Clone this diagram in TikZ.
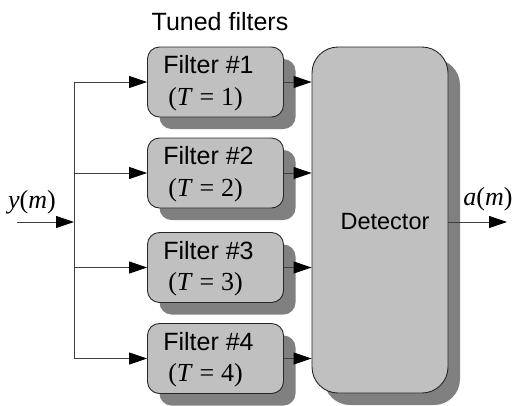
\documentclass[tikz,border=0pt]{standalone}
\usepackage{fontspec}
\setmainfont{Liberation Sans}
\newfontfamily\tms{Liberation Serif}
\usetikzlibrary{arrows.meta,shadows,calc}
\definecolor{boxgray}{HTML}{C0C0C0}
\definecolor{shadowgray}{HTML}{808080}
\definecolor{linegray}{HTML}{404040}
\begin{document}
\begin{tikzpicture}[x=1pt,y=-1pt,
  box/.style={draw=black!85, fill=boxgray, line width=0.9pt,
    drop shadow={shadow xshift=12pt, shadow yshift=-12pt, fill=shadowgray, opacity=1}},
  filterbox/.style={box, rounded corners=12pt, minimum width=136pt, minimum height=70pt, inner sep=0pt},
  detbox/.style={box, rounded corners=26pt, minimum width=136pt, minimum height=346pt, inner sep=0pt},
  lbl/.style={font=\fontsize{25}{29}\selectfont, inner sep=0pt},
  dlbl/.style={font=\fontsize{23.5}{28}\selectfont, inner sep=0pt},
  mlbl/.style={font=\tms\fontsize{26}{30}\selectfont, inner sep=0pt},
  conn/.style={draw=linegray, line width=0.9pt},
  arr/.style={conn, -{Triangle[length=18pt,width=12pt,fill=black,color=black]}}]
\useasboundingbox (0,0) rectangle (518,405);

\node[lbl, anchor=center] (title) at (220,22) {Tuned filters};

\node[filterbox] (f1) at (215.5,82) {};
\node[filterbox] (f2) at (215.5,173) {};
\node[filterbox] (f3) at (215.5,267.5) {};
\node[filterbox] (f4) at (215.5,358.5) {};
\node[detbox] (det) at (380,220) {};

\foreach \i in {1,2,3,4}{
  \node[lbl] (ft\i) at ($(f\i.center)+(-7,-17)$) {Filter \#\i};
  \node[mlbl] (fm\i) at ($(f\i.center)+(-10,17)$) {(\textit{T}\hspace{0.26em}=\hspace{0.26em}\i)};
}
\node[dlbl] (dt) at (385,222) {Detector};

\coordinate (in) at (17,222);
\coordinate (jn) at (74,222);
\coordinate (t1) at (74,82);
\coordinate (t4) at (74,358.5);
\coordinate (out) at (507,222);

\node[mlbl] (ylab) at (32,202) {\textit{y}(\textit{m})};
\node[mlbl] (alab) at (488,199) {\textit{a}(\textit{m})};

\draw[arr] (in) -- (jn);
\draw[conn] (t1) -- (t4);
\foreach \i in {1,2,3,4}{
  \draw[arr] (f\i.west -| jn) -- (f\i.west);
  \draw[arr] (f\i.east) -- (f\i.east -| det.west);
}
\draw[arr] (det.east |- out) -- (out);
\end{tikzpicture}
\end{document}
